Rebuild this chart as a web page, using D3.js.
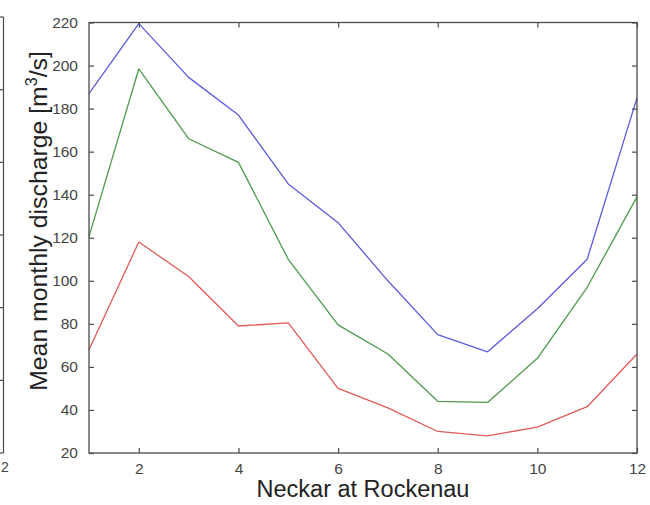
<!DOCTYPE html>
<html>
<head>
<meta charset="utf-8">
<script src="https://cdn.jsdelivr.net/npm/d3@7"></script>
<style>
  body { margin: 0; background: #fff; }
  svg { display: block; }
</style>
</head>
<body>
<script>
// Mean monthly discharge, Neckar at Rockenau
const months = [1, 2, 3, 4, 5, 6, 7, 8, 9, 10, 11, 12];
const upperSeries  = [187, 219.5, 194.5, 177, 145, 127, 100, 75, 67, 87, 110, 185];
const middleSeries = [120.5, 198.5, 166, 155, 110, 79.5, 66, 44, 43.5, 64, 97, 139];
const lowerSeries  = [68, 118, 102, 79, 80.5, 50, 41, 30, 28, 32, 41.5, 66];
const seriesColors = ["#5b5bdc", "#4f9a4f", "#e25a5a"];
const xTickValues = [2, 4, 6, 8, 10, 12];
const yTickValues = [20, 40, 60, 80, 100, 120, 140, 160, 180, 200, 220];
const xTitle = "Neckar at Rockenau";
const yTitleMain = "Mean monthly discharge [m";
const yTitleSup = "3";
const yTitleEnd = "/s]";

const W = 650, H = 505;
const plotLeft = 89, plotRight = 637, plotTop = 22.5, plotBottom = 453;
const font = "'Liberation Sans', Arial, Helvetica, sans-serif";
const axisColor = "#4a4a4a";
const tickLen = 5;

const svg = d3.select("body").append("svg")
  .attr("width", W).attr("height", H)
  .style("font-family", font);

const x = d3.scaleLinear().domain([1, 12]).range([plotLeft, plotRight]);
const y = d3.scaleLinear().domain([20, 220]).range([plotBottom, plotTop]);

// Edge of the neighbouring panel on the far left
const nb = svg.append("g").attr("stroke", axisColor).attr("stroke-width", 1.2);
nb.append("line").attr("x1", 3.5).attr("x2", 3.5).attr("y1", 17).attr("y2", plotBottom);
d3.range(7).forEach(i => {
  const yy = 17 + i * (plotBottom - 17) / 6;
  nb.append("line").attr("x1", 0).attr("x2", 3.5).attr("y1", yy).attr("y2", yy);
});
svg.append("text").attr("x", 5).attr("y", 472)
  .attr("text-anchor", "middle").attr("font-size", 14).attr("fill", "#444").text("2");

// Data lines
const line = d3.line().x((d, i) => x(months[i])).y(d => y(d));
[upperSeries, middleSeries, lowerSeries].forEach((s, k) => {
  svg.append("path").datum(s)
    .attr("fill", "none")
    .attr("stroke", seriesColors[k])
    .attr("stroke-width", 1.3)
    .attr("stroke-linejoin", "round")
    .attr("d", line);
});

// Axes: bottom and left with labels, top and right as plain tick rows (inward ticks)
const axisStyle = g => {
  g.select(".domain").remove();
  g.selectAll(".tick line").attr("stroke", axisColor).attr("stroke-width", 1.2);
  g.selectAll(".tick text").attr("fill", "#444").attr("font-size", 15.5).attr("font-family", font);
};

svg.append("g").attr("transform", `translate(0,${plotBottom})`)
  .call(d3.axisBottom(x).tickValues(xTickValues).tickSizeInner(-tickLen).tickSizeOuter(0).tickPadding(10).tickFormat(d3.format("d")))
  .call(axisStyle);
svg.append("g").attr("transform", `translate(0,${plotTop})`)
  .call(d3.axisTop(x).tickValues(xTickValues).tickSizeInner(-tickLen).tickSizeOuter(0).tickFormat(""))
  .call(axisStyle);
svg.append("g").attr("transform", `translate(${plotLeft},0)`)
  .call(d3.axisLeft(y).tickValues(yTickValues).tickSizeInner(-tickLen).tickSizeOuter(0).tickPadding(11).tickFormat(d3.format("d")))
  .call(axisStyle);
svg.append("g").attr("transform", `translate(${plotRight},0)`)
  .call(d3.axisRight(y).tickValues(yTickValues).tickSizeInner(-tickLen).tickSizeOuter(0).tickFormat(""))
  .call(axisStyle);

// Plot frame
svg.append("rect")
  .attr("x", plotLeft).attr("y", plotTop)
  .attr("width", plotRight - plotLeft).attr("height", plotBottom - plotTop)
  .attr("fill", "none").attr("stroke", axisColor).attr("stroke-width", 1.3);

// Titles
svg.append("text")
  .attr("x", (plotLeft + plotRight) / 2).attr("y", 497)
  .attr("text-anchor", "middle").attr("font-size", 23.5).attr("fill", "#222")
  .text(xTitle);

const yt = svg.append("text")
  .attr("transform", "translate(47,221) rotate(-90)")
  .attr("text-anchor", "middle").attr("font-size", 24.8).attr("fill", "#222");
yt.append("tspan").text(yTitleMain);
yt.append("tspan").attr("font-size", 16).attr("dy", -10).text(yTitleSup);
yt.append("tspan").attr("dy", 10).text(yTitleEnd);
</script>
</body>
</html>
